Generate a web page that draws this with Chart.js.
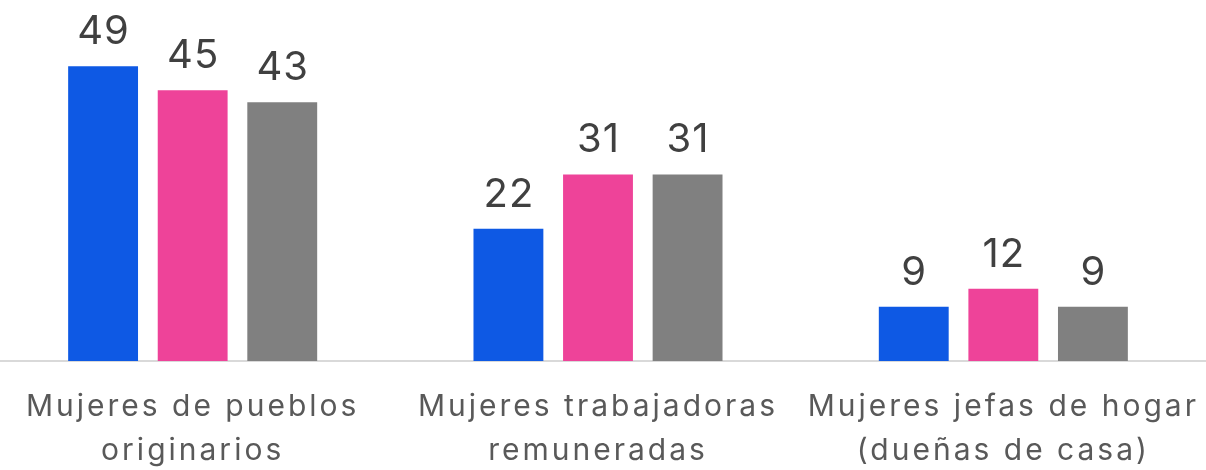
<!DOCTYPE html>
<html>
<head>
<meta charset="utf-8">
<script src="https://cdn.jsdelivr.net/npm/chart.js@4"></script>
<style>
  html, body { margin: 0; padding: 0; background: #ffffff; overflow: hidden; }
  #wrap { position: absolute; left: -10px; top: 0; width: 1216px; height: 470px; }
</style>
</head>
<body>
<div id="wrap"><canvas id="chart"></canvas></div>
<script>
const categories = [
  ["Mujeres de pueblos", "originarios"],
  ["Mujeres trabajadoras", "remuneradas"],
  ["Mujeres jefas de hogar", "(dueñas de casa)"]
];
const seriesA = [49, 22, 9];
const seriesB = [45, 31, 12];
const seriesC = [43, 31, 9];

// wider letter spacing for the axis text, like the original
const spacing = {
  id: "spacing",
  beforeDraw(chart) { chart.ctx.letterSpacing = "3px"; },
  beforeDatasetsDraw(chart) { chart.ctx.letterSpacing = "0px"; }
};

// draws the numbers above each bar
const valueLabels = {
  id: "valueLabels",
  afterDatasetsDraw(chart) {
    const ctx = chart.ctx;
    ctx.save();
    ctx.letterSpacing = "1px";
    ctx.font = "40px Inter";
    ctx.fillStyle = "#404040";
    ctx.textAlign = "center";
    ctx.textBaseline = "alphabetic";
    chart.data.datasets.forEach((ds, i) => {
      chart.getDatasetMeta(i).data.forEach((bar, j) => {
        ctx.fillText(ds.data[j], bar.x + 0.5, bar.y - 22);
      });
    });
    ctx.restore();
  }
};

new Chart(document.getElementById("chart"), {
  type: "bar",
  data: {
    labels: categories,
    datasets: [
      { label: "A", data: seriesA, backgroundColor: "#0e59e4" },
      { label: "B", data: seriesB, backgroundColor: "#ee4399" },
      { label: "C", data: seriesC, backgroundColor: "#808080" }
    ]
  },
  options: {
    responsive: true,
    maintainAspectRatio: false,
    animation: false,
    layout: { padding: 0 },
    datasets: {
      bar: { categoryPercentage: 0.663, barPercentage: 0.78 }
    },
    plugins: {
      legend: { display: false },
      tooltip: { enabled: false }
    },
    scales: {
      x: {
        grid: { display: false },
        border: { display: true, color: "#d9d9d9", width: 2 },
        ticks: {
          color: "#595959",
          font: { family: "Inter", size: 30, lineHeight: 1.47 },
          padding: 16,
          maxRotation: 0
        },
        afterFit(scale) { scale.height = 109; }
      },
      y: {
        display: false,
        min: 0,
        max: 60
      }
    }
  },
  plugins: [spacing, valueLabels]
});
</script>
</body>
</html>
